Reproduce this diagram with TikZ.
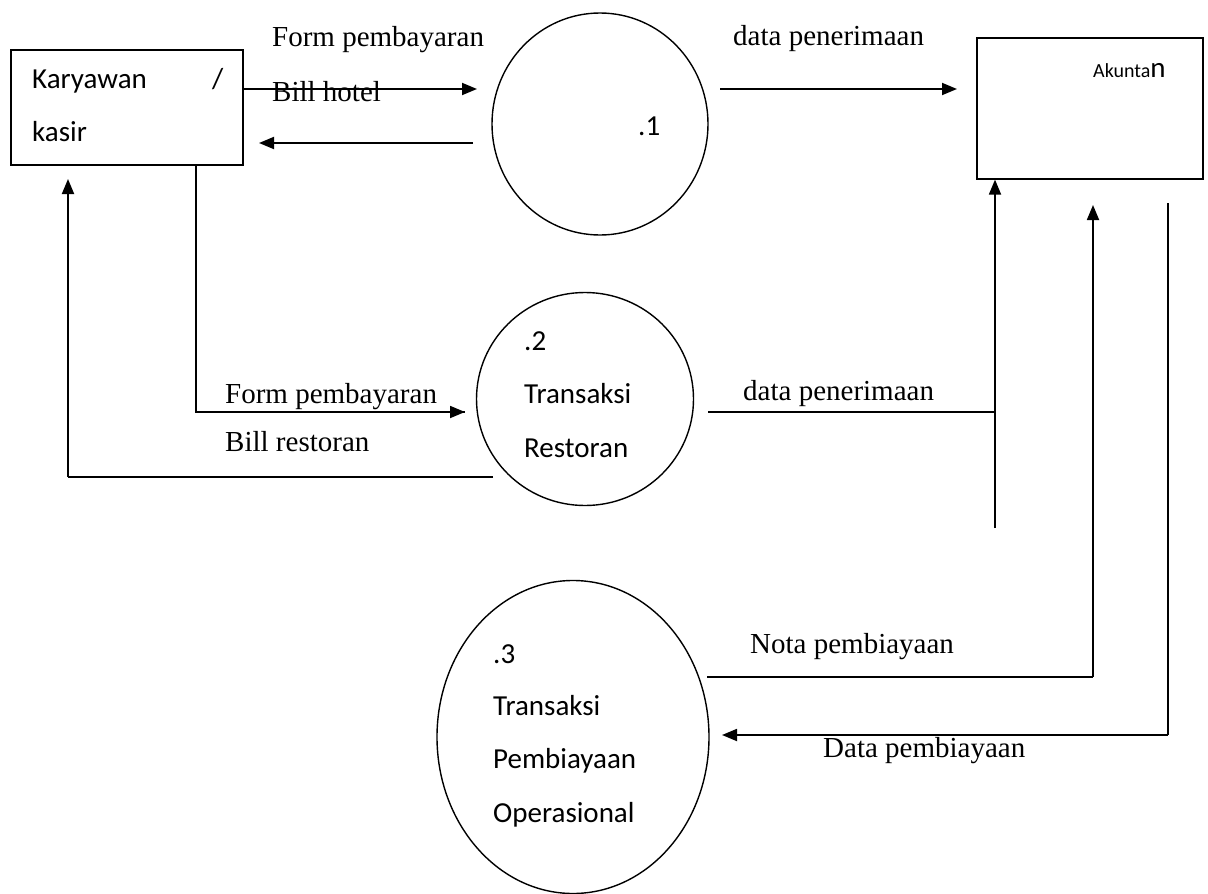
\documentclass[tikz,border=0pt]{standalone}
\usepackage{fontspec}
\setmainfont{Liberation Serif}
\newfontfamily\calfont{Carlito}
\usetikzlibrary{arrows.meta,shapes.geometric}
\tikzset{
  ent/.style={draw, line width=1.6pt, rectangle, anchor=north west, inner sep=0pt},
  proc/.style={draw, line width=1.4pt, ellipse, inner sep=0pt},
  flow/.style={line width=1.8pt, -{Triangle[length=15pt,width=12pt]}},
  plain/.style={line width=1.4pt},
  serif/.style={font=\fontsize{29}{35}\selectfont, anchor=base west, inner sep=0pt},
  sans/.style={font=\calfont\fontsize{29}{35}\selectfont, anchor=base west, inner sep=0pt},
}
\begin{document}
\begin{tikzpicture}[x=1pt,y=-1pt]
\useasboundingbox[fill=white] (0,0) rectangle (1208,894);

% entities
\node[ent, minimum width=232pt, minimum height=115pt] (kary) at (10,49) {};
\node[ent, minimum width=226pt, minimum height=141pt] (akun) at (976,37) {};

% processes
\node[proc, minimum width=216pt, minimum height=222pt] (p1) at (600,124) {};
\node[proc, minimum width=217pt, minimum height=213pt] (p2) at (585,399) {};
\node[proc, minimum width=272pt, minimum height=313pt] (p3) at (573,737) {};

% texts in shapes
\node[sans] (tk1) at (32,88) {Karyawan};
\node[sans] (tk2) at (212,88) {/};
\node[sans] (tk3) at (32,141) {kasir};
\node[sans, font=\calfont\fontsize{20}{24}\selectfont] (ta1) at (1093,77) {Akunta\fontsize{29}{35}\selectfont n};
\node[sans] (t1) at (638,135) {.1};
\node[sans] (t2a) at (524,350) {.2};
\node[sans] (t2b) at (524,403) {Transaksi};
\node[sans] (t2c) at (524,457) {Restoran};
\node[sans] (t3a) at (493,663) {.3};
\node[sans] (t3b) at (493,715) {Transaksi};
\node[sans] (t3c) at (493,768) {Pembiayaan};
\node[sans] (t3d) at (493,822) {Operasional};

% flow labels
\node[serif] (l1) at (272,46) {Form pembayaran};
\node[serif] (l2) at (272,101) {Bill hotel};
\node[serif] (l3) at (733,45) {data penerimaan};
\node[serif] (l4) at (225,403) {Form pembayaran};
\node[serif] (l5) at (225,451) {Bill restoran};
\node[serif] (l6) at (743,400) {data penerimaan};
\node[serif] (l7) at (750,653) {Nota pembiayaan};
\node[serif] (l8) at (823,757) {Data pembiayaan};

% free ends
\coordinate (e1) at (477,89);
\coordinate (s2) at (473,143);
\coordinate (e2) at (259,143);
\coordinate (s3) at (720,89);
\coordinate (e3) at (957,89);
\coordinate (c4) at (196,412);
\coordinate (e4) at (465,412);
\coordinate (s5) at (493,477);
\coordinate (c5) at (68,477);
\coordinate (e5) at (68,179);
\coordinate (s6) at (708,412);
\coordinate (j6) at (995,412);
\coordinate (b6) at (995,528);
\coordinate (s7) at (707,677);
\coordinate (c7) at (1093,677);
\coordinate (e7) at (1093,205);
\coordinate (s8) at (1168,203);
\coordinate (c8) at (1168,735);
\coordinate (e8) at (722,735);

% connectors
\draw[flow] (kary.east |- e1) -- (e1);
\draw[flow] (s2) -- (e2);
\draw[flow] (s3) -- (e3);
\draw[plain] (kary.south -| c4) -- (c4) -- (e4);
\draw[flow] (c4) -- (e4);
\draw[plain] (s5) -- (c5);
\draw[flow] (c5) -- (e5);
\draw[plain] (s6) -- (j6);
\draw[flow] (b6) -- (akun.south -| b6);
\draw[plain] (s7) -- (c7);
\draw[flow] (c7) -- (e7);
\draw[plain] (s8) -- (c8);
\draw[flow] (c8) -- (e8);
\end{tikzpicture}
\end{document}
